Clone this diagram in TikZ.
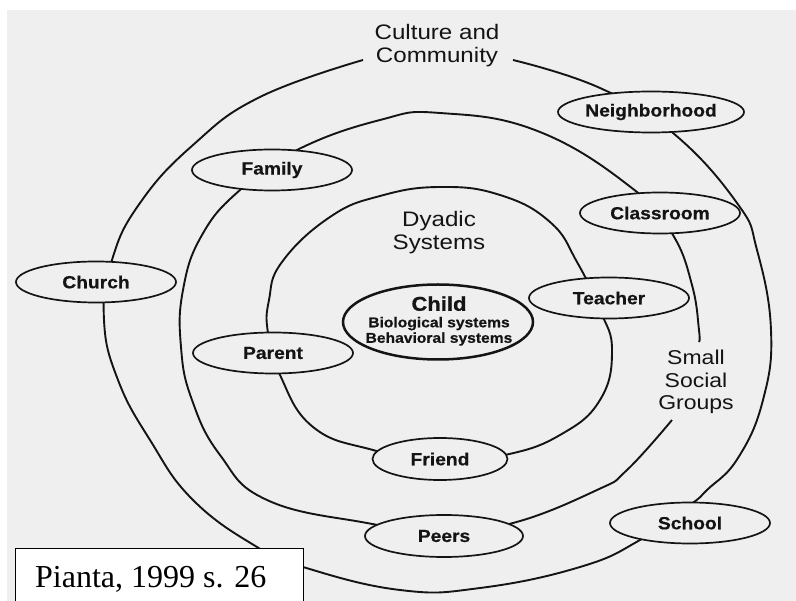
\documentclass[tikz,border=0pt]{standalone}
\usepackage{fontspec}
\setmainfont{Liberation Sans}
\newfontfamily\widefont[FakeStretch=1.15]{Liberation Sans}
\newfontfamily\widebold[FakeStretch=1.1,FakeBold=0.6]{Liberation Sans Bold}
\newfontfamily\notefont{Liberation Serif}
\usetikzlibrary{shapes.geometric}
\definecolor{bg}{RGB}{239,239,239}
\definecolor{ink}{RGB}{20,20,20}
\begin{document}
\begin{tikzpicture}[x=1pt,y=-1pt,
  ring/.style={line width=1.9pt, draw=ink, line join=round},
  place/.style={ellipse, draw=ink, line width=1.7pt, fill=bg, minimum width=160pt, minimum height=41pt, inner sep=0pt, text=ink, font=\widebold\fontsize{17.5}{18}\selectfont},
  ringlabel/.style={align=center, text=ink, inner sep=0pt, font=\widefont\fontsize{21}{23}\selectfont}]
\useasboundingbox (0,0) rectangle (796,601);
\clip (0,0) rectangle (796,601);
\fill[white] (0,0) rectangle (796,601);
\fill[bg] (7,10) rectangle (796,601);

% outer ring (culture and community)
\draw[ring] plot[smooth, tension=0.75] coordinates {(513,60) (600,88) (673,133) (737,203) (757,250) (771,330) (763,400) (738,458) (707,490) (690,505) (640,540) (580,567) (480,588) (400,590) (303,567) (257,547) (193,500) (150,440) (118,380) (104,320) (112,260) (140,203) (193,145) (260,97) (363,60)};
% middle ring (small social groups)
\draw[ring] plot[smooth, tension=0.75] coordinates {(672,420) (627,470) (597,490) (513,523) (440,532) (367,523) (267,500) (220,455) (192,400) (181,347) (183,290) (202,235) (240,190) (297,150) (380,120) (440,113) (540,132) (637,192) (673,235) (692,285) (699,330) (699,342)};
% inner ring (dyadic systems)
\draw[ring] plot[smooth cycle, tension=0.75] coordinates {(440,187) (500,195) (550,222) (577,262) (600,310) (612,350) (600,400) (560,435) (505,455) (440,462) (373,450) (313,427) (280,375) (268,333) (269,300) (282,262) (330,217) (380,196)};

% places
\node[place] (neighborhood) at (651,112) {Neighborhood};
\node[place] (classroom) at (660,213) {Classroom};
\node[place] (family) at (272,170) {Family};
\node[place] (church) at (96,282) {Church};
\node[place] (teacher) at (609,298) {Teacher};
\node[place] (parent) at (273,353) {Parent};
\node[place, minimum width=135pt, minimum height=42pt] (friend) at (440,459) {Friend};
\node[place, minimum width=158pt, minimum height=42pt] (peers) at (444,536) {Peers};
\node[place] (school) at (690,523) {School};

% child
\node[ellipse, draw=ink, line width=2.5pt, fill=bg, minimum width=190pt, minimum height=75pt] (child) at (438,322) {};
\node[align=center, text=ink, inner sep=0pt, font=\widebold\fontsize{14.2}{15.5}\selectfont] (childtext) at (439,321)
  {{\fontsize{20}{20}\selectfont Child}\\[1pt] Biological systems\\ Behavioral systems};

% ring labels
\node[ringlabel] (culture) at (437,46) {Culture and\\Community};
\node[ringlabel] (dyadic) at (439,233) {Dyadic\\Systems};
\node[ringlabel, font=\widefont\fontsize{20}{22.5}\selectfont] (small) at (696,382) {Small\\Social\\Groups};

% source box
\draw[line width=0.8pt, fill=white] (15,548) rectangle (303,610);
\node[anchor=base west, inner sep=0pt, font=\notefont\fontsize{32}{32}\selectfont] (source) at (35,587) {Pianta, 1999 s. 26};
\end{tikzpicture}
\end{document}
